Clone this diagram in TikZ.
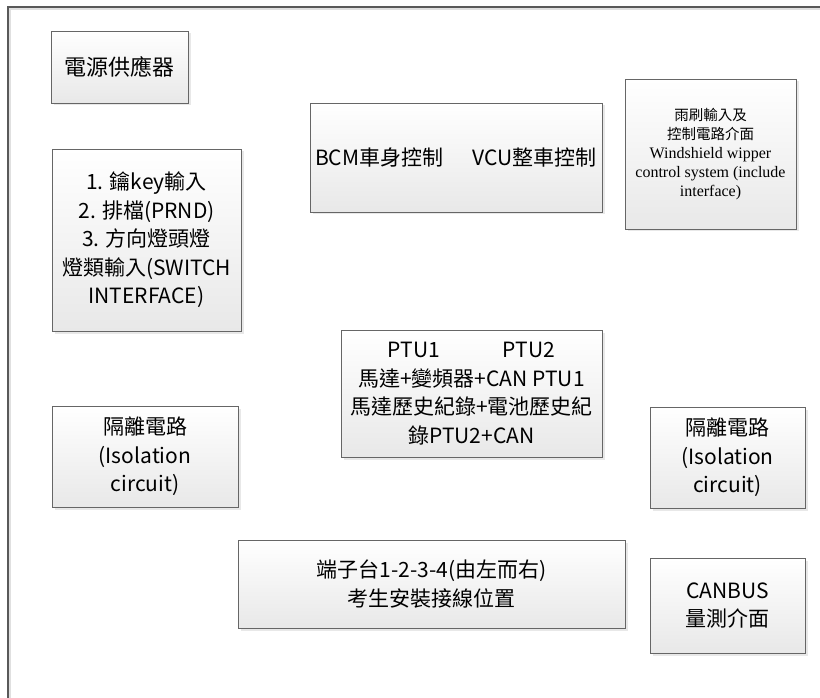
\documentclass[tikz,border=0pt]{standalone}
\usepackage{fontspec}
\newfontfamily\cjk{Noto Sans CJK TC}
\newfontfamily\latinserif{Liberation Serif}
\usetikzlibrary{shadows}

\begin{document}
\begin{tikzpicture}
    [x=1pt,y=-1pt,
    block/.style={rectangle,draw=black!60,thick,top color=white,bottom color=black!9,
      drop shadow={shadow xshift=2.5pt,shadow yshift=-2.5pt,fill=black!18},
      inner sep=0pt,align=center,font=\cjk\fontsize{21}{28.5}\selectfont},
    small block/.style={block,font=\cjk\fontsize{14.5}{19}\selectfont}]

    \useasboundingbox (0,0) rectangle (820,698);

    % outer frame
    \draw[black!12,line width=2pt] (10,698) -- (10,9) -- (820,9);
    \draw[black!65,line width=1.2pt] (8,698) -- (8,7) -- (820,7);



    \node (power supply)    at (119.5,67)  [block,minimum width=137pt,minimum height=72pt] {\fontsize{22}{28}\selectfont 電源供應器};

    \node (body control)    at (456,157.5) [block,minimum width=292pt,minimum height=109pt] {BCM車身控制\hspace{1.4em}VCU整車控制};

    \node (wiper)           at (710.5,154) [small block,minimum width=171pt,minimum height=150pt]
      {雨刷輸入及\\控制電路介面\\{\latinserif\fontsize{16}{19}\selectfont Windshield wipper}\\
       {\latinserif\fontsize{16}{19}\selectfont control system (include}\\
       {\latinserif\fontsize{16}{19}\selectfont interface)}};

    \node (switch input)    at (146.5,240) [block,minimum width=189pt,minimum height=182pt]
      {1. 鑰key輸入\\2. 排檔(PRND)\\3. 方向燈頭燈\\燈類輸入(SWITCH\\INTERFACE)};

    \node (ptu)             at (471.5,393.5) [block,minimum width=261pt,minimum height=127pt]
      {PTU1\hspace{3em}PTU2\\馬達+變頻器+CAN PTU1\\馬達歷史紀錄+電池歷史紀\\錄PTU2+CAN};

    \node (isolation left)  at (145,456.5) [block,minimum width=186pt,minimum height=101pt]
      {隔離電路\\(Isolation\\circuit)};

    \node (isolation right) at (727.5,457.5) [block,minimum width=155pt,minimum height=101pt]
      {隔離電路\\(Isolation\\circuit)};

    \node (terminal)        at (431.5,584) [block,minimum width=387pt,minimum height=88pt]
      {端子台1-2-3-4(由左而右)\\考生安裝接線位置};

    \node (canbus)          at (727.5,605.5) [block,minimum width=155pt,minimum height=95pt]
      {CANBUS\\量測介面};

  \end{tikzpicture}
\end{document}
